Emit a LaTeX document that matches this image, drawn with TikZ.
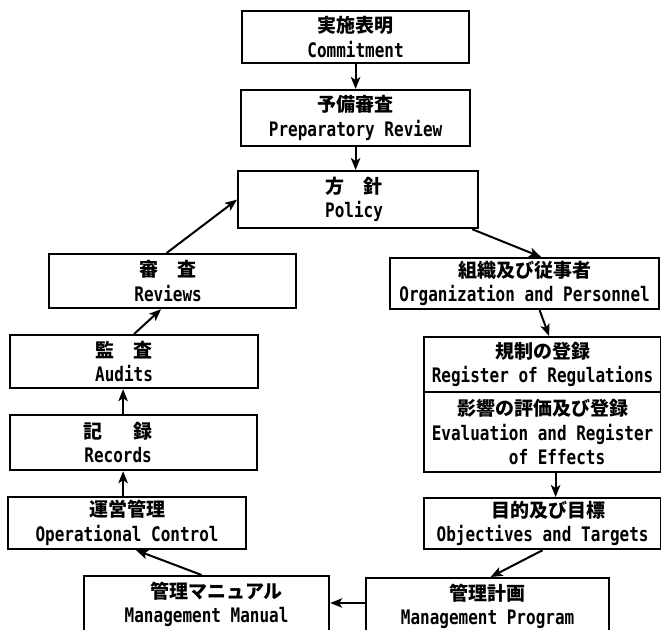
\documentclass[tikz,border=0pt]{standalone}
\usepackage{fontspec}
\newfontfamily\jpfont{Noto Sans CJK JP}
\newfontfamily\enfont{DejaVu Sans Mono}[FakeStretch=0.8]
\usetikzlibrary{arrows.meta,calc}
\newcommand\jl[1]{{\fontsize{19}{24.5}\selectfont\jpfont\bfseries #1}}
\newcommand\el[1]{{\enfont\bfseries #1}}
\begin{document}
\begin{tikzpicture}[x=1pt,y=-1pt,
  box/.style={draw, line width=2.2pt, anchor=north west, inner sep=0pt, align=center,
    font=\fontsize{20}{24.5}\selectfont},
  arr/.style={line width=2pt, -{Stealth[length=12pt,width=9.5pt,inset=3pt]}}]
\useasboundingbox (0,0) rectangle (661,629);

\node[box, minimum width=227pt, minimum height=52pt] (commit) at (241,10) {\jl{実施表明}\\\el{Commitment}};
\node[box, minimum width=229pt, minimum height=56pt] (prep) at (240,89) {\jl{予備審査}\\\el{Preparatory Review}};
\node[box, minimum width=240pt, minimum height=57pt] (policy) at (237,170) {\jl{方　針}\hspace*{8pt}\\\el{Policy}\hspace*{8pt}};
\node[box, minimum width=247pt, minimum height=54pt] (rev) at (48,253) {\jl{審　査}\hspace*{9pt}\\\el{Reviews}\hspace*{9pt}};
\node[box, minimum width=248pt, minimum height=53pt] (aud) at (9,334) {\jl{監　査}\hspace*{20pt}\\\el{Audits}\hspace*{20pt}};
\node[box, minimum width=247pt, minimum height=55pt] (rec) at (9,414) {\jl{記\hspace{1.6em}録}\hspace*{31pt}\\\el{Records}\hspace*{31pt}};
\node[box, minimum width=238pt, minimum height=52pt] (op) at (7,496) {\jl{運営管理}\\\el{Operational Control}};
\node[box, minimum width=245pt, minimum height=56pt] (man) at (83,575) {\hspace*{20pt}\jl{管理マニュアル}\\\el{Management Manual}};
\node[box, minimum width=243pt, minimum height=56pt] (prog) at (365,577) {\jl{管理計画}\\\el{Management Program}};
\node[box, minimum width=237pt, minimum height=51pt] (obj) at (423,497) {\hspace*{12pt}\jl{目的及び目標}\\\el{Objectives and Targets}};
\node[box, minimum width=237pt, minimum height=55pt] (regA) at (423,336) {\jl{規制の登録}\\\el{Register of Regulations}};
\node[box, minimum width=237pt, minimum height=80pt] (regB) at (423,391) {\jl{影響の評価及び登録}\\\el{Evaluation and Register}\\\hspace*{29pt}\el{of Effects}};
\node[box, minimum width=269pt, minimum height=51pt] (org) at (389,257) {\jl{組織及び従事者}\\\el{Organization and Personnel}};

\draw[arr] (commit) -- (prep);
\draw[arr] (prep.south) -- (prep.south |- policy.north);
\draw[arr] ($(policy.south east)+(-7,0)$) -- ($(org.north)+(16.5,0)$);
\draw[arr] ($(org.south)+(15,0)$) -- ($(regA.north)+(6.5,0)$);
\draw[arr] ($(regB.south)+(13,0)$) -- ($(obj.north)+(13,0)$);
\draw[arr] (obj.south) -- ($(prog.north)+(3,0)$);
\draw[arr] ($(prog.north west)+(0,26)$) -- ($(man.north east)+(0,28)$);
\draw[arr] ($(man.north)+(-5,0)$) -- ($(op.south)+(9,0)$);
\draw[arr] ($(op.north)+(-4,0)$) -- ($(rec.south)+(-10.5,0)$);
\draw[arr] ($(rec.north)+(-10.5,0)$) -- ($(aud.south)+(-11,0)$);
\draw[arr] (aud.north) -- ($(rev.south)+(-11.5,0)$);
\draw[arr] ($(rev.north)+(-6,0)$) -- (policy.west);
\end{tikzpicture}
\end{document}
